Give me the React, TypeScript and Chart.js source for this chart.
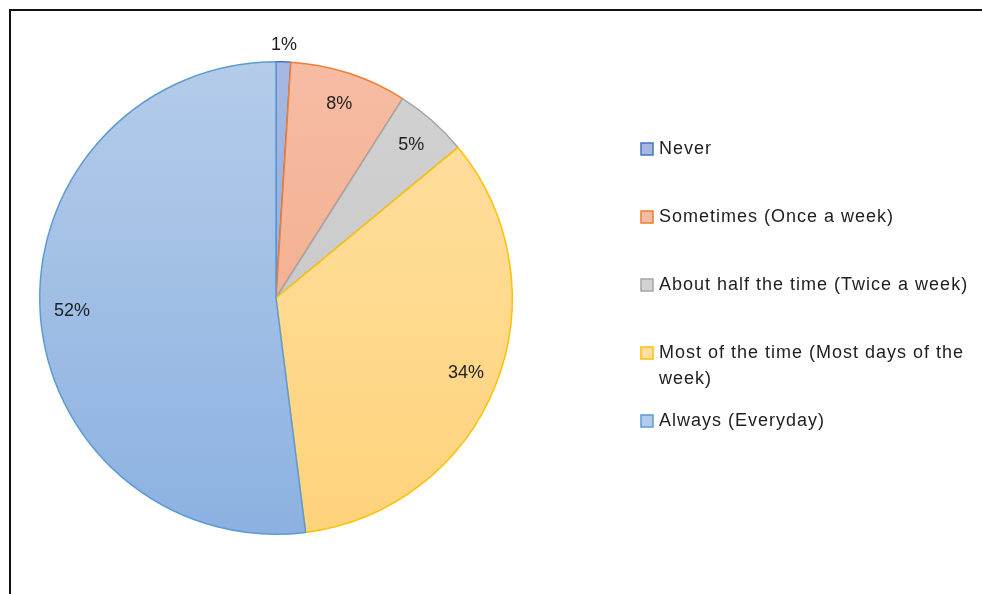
import React, { useEffect, useRef } from "react";
import { Chart, registerables } from "chart.js";

Chart.register(...registerables);

const categories = [
  "Never",
  "Sometimes (Once a week)",
  "About half the time (Twice a week)",
  "Most of the time (Most days of the week)",
  "Always (Everyday)",
];
const percentages = [1, 8, 5, 34, 52];

const fillTop = ["#a6b8e1", "#f6bca3", "#d2d2d2", "#ffdfa2", "#b4cce9"];
const fillBottom = ["#8ca5da", "#f0a684", "#c3c3c3", "#ffd37b", "#8cb1e1"];
const borderColors = ["#4472c4", "#ed7d31", "#a5a5a5", "#ffc000", "#5b9bd5"];

const LABEL_FONT = "18px 'Liberation Sans', Arial, sans-serif";
const LEGEND_FONT = "18px 'Liberation Sans', Arial, sans-serif";
const TEXT_COLOR = "#1e1e1e";

const framePlugin = {
  id: "frame",
  beforeDraw(chart: any) {
    const ctx = chart.ctx;
    ctx.save();
    ctx.fillStyle = "#ffffff";
    ctx.fillRect(0, 0, chart.width, chart.height);
    ctx.strokeStyle = "#111111";
    ctx.lineWidth = 2;
    ctx.beginPath();
    ctx.moveTo(10, chart.height);
    ctx.lineTo(10, 10);
    ctx.lineTo(chart.width, 10);
    ctx.stroke();
    ctx.restore();
  },
};

const sliceLabelPlugin = {
  id: "sliceLabels",
  afterDatasetsDraw(chart: any) {
    const ctx = chart.ctx;
    const meta = chart.getDatasetMeta(0);
    ctx.save();
    ctx.font = LABEL_FONT;
    ctx.fillStyle = TEXT_COLOR;
    ctx.textAlign = "center";
    ctx.textBaseline = "middle";
    meta.data.forEach((arc: any, i: number) => {
      const p = arc.getProps(["x", "y", "startAngle", "endAngle", "outerRadius"], true);
      const mid = (p.startAngle + p.endAngle) / 2;
      const v = percentages[i];
      const r = v < 3 ? p.outerRadius + 17 : p.outerRadius * 0.865;
      ctx.fillText(`${v}%`, p.x + Math.cos(mid) * r, p.y + Math.sin(mid) * r);
    });
    ctx.restore();
  },
};

const legendPlugin = {
  id: "customLegend",
  afterDraw(chart: any) {
    const ctx = chart.ctx;
    const boxX = 641;
    const textX = 659;
    const startY = 149;
    const step = 68;
    const lineH = 26;
    const maxW = chart.width - textX - 4;
    ctx.save();
    ctx.font = LEGEND_FONT;
    (ctx as any).letterSpacing = "1px";
    ctx.textAlign = "left";
    ctx.textBaseline = "middle";
    categories.forEach((label, i) => {
      const y = startY + step * i;
      ctx.fillStyle = fillTop[i];
      ctx.fillRect(boxX, y - 6, 12, 12);
      ctx.strokeStyle = borderColors[i];
      ctx.lineWidth = 1.5;
      ctx.strokeRect(boxX, y - 6, 12, 12);
      const words = label.split(" ");
      const lines: string[] = [];
      let cur = "";
      words.forEach((w) => {
        const test = cur ? cur + " " + w : w;
        if (ctx.measureText(test).width > maxW && cur) {
          lines.push(cur);
          cur = w;
        } else {
          cur = test;
        }
      });
      if (cur) lines.push(cur);
      ctx.fillStyle = TEXT_COLOR;
      lines.forEach((ln, j) => ctx.fillText(ln, textX, y + j * lineH));
    });
    ctx.restore();
  },
};

export default function App() {
  const ref = useRef<HTMLCanvasElement | null>(null);
  useEffect(() => {
    if (!ref.current) return;
    const chart = new Chart(ref.current, {
      type: "pie",
      data: {
        labels: categories,
        datasets: [
          {
            data: percentages,
            backgroundColor: (c: any) => {
              const i = c.dataIndex;
              const area = c.chart.chartArea;
              if (!area) return fillTop[i];
              const g = c.chart.ctx.createLinearGradient(0, area.top, 0, area.bottom);
              g.addColorStop(0, fillTop[i]);
              g.addColorStop(1, fillBottom[i]);
              return g;
            },
            borderColor: borderColors,
            borderWidth: 1.5,
            hoverOffset: 0,
            offset: 0,
          },
        ],
      },
      options: {
        responsive: false,
        animation: false,
        layout: { padding: { left: 39, right: 469, top: 61, bottom: 59 } },
        plugins: {
          legend: { display: false },
          tooltip: { enabled: false },
        },
      },
      plugins: [framePlugin, sliceLabelPlugin, legendPlugin],
    });
    return () => chart.destroy();
  }, []);
  return (
    <div style={{ position: "fixed", left: 0, top: 0, width: 982, height: 594, background: "#fff" }}>
      <canvas ref={ref} width={982} height={594} style={{ display: "block" }} />
    </div>
  );
}
